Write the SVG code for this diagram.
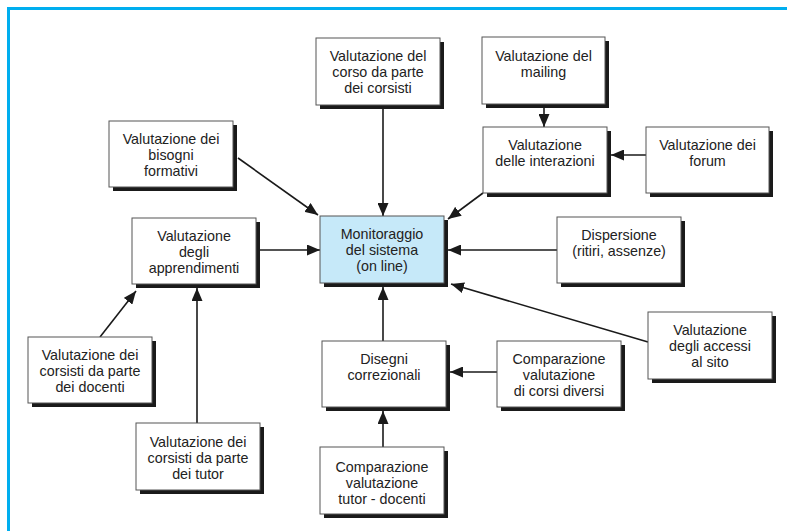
<svg xmlns="http://www.w3.org/2000/svg" width="787" height="531" viewBox="0 0 787 531">
<defs>
<style>
.sh{fill:#1a1a1a}
.bx{fill:#fff;stroke:#555;stroke-width:1}
.mbx{fill:#c6e9f9;stroke:#555;stroke-width:1}
text{font-family:"Liberation Sans",Arial,sans-serif;font-size:14.3px;fill:#222;text-anchor:middle}
.cn{stroke:#1a1a1a;stroke-width:1.6;fill:none;marker-end:url(#ah)}
</style>
<marker id="ah" markerUnits="userSpaceOnUse" markerWidth="13" markerHeight="11" refX="13" refY="5.5" orient="auto">
<path d="M0,0 L13,5.5 L0,11 z" fill="#1a1a1a"/>
</marker>
</defs>
<rect width="787" height="531" fill="#fff"/>
<g id="frame">
<line x1="7" y1="8.5" x2="787" y2="8.5" stroke="#00aeef" stroke-width="3"/>
<line x1="8.5" y1="7" x2="8.5" y2="531" stroke="#00aeef" stroke-width="3"/>
</g>
<g id="connectors">
<path class="cn" d="M383,105 L383,216"/>
<path class="cn" d="M238,158 L318,215"/>
<path class="cn" d="M260,250 L320,250"/>
<path class="cn" d="M544,108 L544,127"/>
<path class="cn" d="M646,155 L611,155"/>
<path class="cn" d="M483,193 L448,219"/>
<path class="cn" d="M557,250 L448,250"/>
<path class="cn" d="M648,342 L451,284"/>
<path class="cn" d="M497,372 L450,372"/>
<path class="cn" d="M383,341 L383,287"/>
<path class="cn" d="M383,447 L383,411"/>
<path class="cn" d="M100,337 L136,291"/>
<path class="cn" d="M197,423 L197,288"/>
</g>
<g id="n-corso">
<rect class="sh" x="320" y="42" width="124" height="67"/>
<rect class="bx" x="316" y="38" width="124" height="67"/>
<text x="378" y="61">Valutazione del</text>
<text x="378" y="77">corso da parte</text>
<text x="378" y="93">dei corsisti</text>
</g>
<g id="n-bisogni">
<rect class="sh" x="113" y="125" width="124" height="66"/>
<rect class="bx" x="109" y="121" width="124" height="66"/>
<text x="171" y="144">Valutazione dei</text>
<text x="171" y="160">bisogni</text>
<text x="171" y="176">formativi</text>
</g>
<g id="n-apprendimenti">
<rect class="sh" x="136" y="222" width="124" height="66"/>
<rect class="bx" x="132" y="218" width="124" height="66"/>
<text x="194" y="241">Valutazione</text>
<text x="194" y="257">degli</text>
<text x="194" y="273">apprendimenti</text>
</g>
<g id="n-monitoraggio">
<rect class="sh" x="324" y="220" width="124" height="67"/>
<rect class="mbx" x="320" y="216" width="124" height="67"/>
<text x="382" y="239">Monitoraggio</text>
<text x="382" y="255">del sistema</text>
<text x="382" y="271">(on line)</text>
</g>
<g id="n-mailing">
<rect class="sh" x="486" y="41" width="123" height="67"/>
<rect class="bx" x="482" y="37" width="123" height="67"/>
<text x="543.5" y="61">Valutazione del</text>
<text x="543.5" y="77">mailing</text>
</g>
<g id="n-interazioni">
<rect class="sh" x="487" y="131" width="124" height="66"/>
<rect class="bx" x="483" y="127" width="124" height="66"/>
<text x="545" y="150">Valutazione</text>
<text x="545" y="166">delle interazioni</text>
</g>
<g id="n-forum">
<rect class="sh" x="650" y="131" width="123" height="66"/>
<rect class="bx" x="646" y="127" width="123" height="66"/>
<text x="707.5" y="150">Valutazione dei</text>
<text x="707.5" y="166">forum</text>
</g>
<g id="n-dispersione">
<rect class="sh" x="561" y="221" width="124" height="66"/>
<rect class="bx" x="557" y="217" width="124" height="66"/>
<text x="619" y="240">Dispersione</text>
<text x="619" y="256">(ritiri, assenze)</text>
</g>
<g id="n-accessi">
<rect class="sh" x="652" y="316" width="124" height="67"/>
<rect class="bx" x="648" y="312" width="124" height="67"/>
<text x="710" y="335">Valutazione</text>
<text x="710" y="351">degli accessi</text>
<text x="710" y="367">al sito</text>
</g>
<g id="n-compcorsi">
<rect class="sh" x="501" y="345" width="124" height="66"/>
<rect class="bx" x="497" y="341" width="124" height="66"/>
<text x="559" y="364">Comparazione</text>
<text x="559" y="380">valutazione</text>
<text x="559" y="396">di corsi diversi</text>
</g>
<g id="n-disegni">
<rect class="sh" x="326" y="345" width="124" height="66"/>
<rect class="bx" x="322" y="341" width="124" height="66"/>
<text x="384" y="364">Disegni</text>
<text x="384" y="380">correzionali</text>
</g>
<g id="n-comptutor">
<rect class="sh" x="324" y="451" width="124" height="67"/>
<rect class="bx" x="320" y="447" width="124" height="67"/>
<text x="382" y="472">Comparazione</text>
<text x="382" y="488">valutazione</text>
<text x="382" y="504">tutor - docenti</text>
</g>
<g id="n-docenti">
<rect class="sh" x="32" y="341" width="124" height="66"/>
<rect class="bx" x="28" y="337" width="124" height="66"/>
<text x="90" y="360">Valutazione dei</text>
<text x="90" y="376">corsisti da parte</text>
<text x="90" y="392">dei docenti</text>
</g>
<g id="n-tutor">
<rect class="sh" x="140" y="427" width="124" height="67"/>
<rect class="bx" x="136" y="423" width="124" height="67"/>
<text x="198" y="447">Valutazione dei</text>
<text x="198" y="463">corsisti da parte</text>
<text x="198" y="479">dei tutor</text>
</g>
</svg>
